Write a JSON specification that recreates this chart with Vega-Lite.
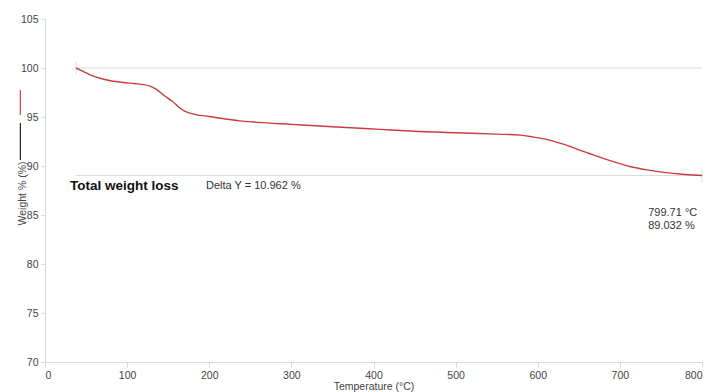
{
  "$schema": "https://vega.github.io/schema/vega-lite/v6.json",
  "width": 657,
  "height": 343,
  "autosize": {"type": "none"},
  "padding": {"left": 45, "top": 19, "right": 5, "bottom": 30},
  "background": "white",
  "config": {
    "font": "Liberation Sans",
    "view": {"stroke": null},
    "axis": {
      "grid": false,
      "domainColor": "#d9d9d9",
      "tickColor": "#d9d9d9",
      "tickSize": 4,
      "labelColor": "#444444",
      "labelFont": "Liberation Sans",
      "labelFontSize": 10.5,
      "titleFont": "Liberation Sans",
      "titleFontWeight": "normal",
      "titleFontSize": 10.5,
      "titleColor": "#444444"
    }
  },
  "datasets": {
    "curve": [
      {"temp": 37.8, "weight": 100.0},
      {"temp": 45, "weight": 99.7},
      {"temp": 55, "weight": 99.3},
      {"temp": 67, "weight": 98.95},
      {"temp": 80, "weight": 98.7},
      {"temp": 95, "weight": 98.52},
      {"temp": 110, "weight": 98.4},
      {"temp": 120, "weight": 98.3},
      {"temp": 128, "weight": 98.15},
      {"temp": 136, "weight": 97.8},
      {"temp": 145, "weight": 97.2},
      {"temp": 155, "weight": 96.6},
      {"temp": 163, "weight": 96.0},
      {"temp": 170, "weight": 95.6},
      {"temp": 181, "weight": 95.3},
      {"temp": 200, "weight": 95.05},
      {"temp": 220, "weight": 94.8},
      {"temp": 237, "weight": 94.6},
      {"temp": 260, "weight": 94.45},
      {"temp": 300, "weight": 94.25},
      {"temp": 350, "weight": 94.0},
      {"temp": 408, "weight": 93.74},
      {"temp": 450, "weight": 93.55},
      {"temp": 500, "weight": 93.4},
      {"temp": 550, "weight": 93.25},
      {"temp": 579, "weight": 93.15},
      {"temp": 595, "weight": 92.95},
      {"temp": 611, "weight": 92.72},
      {"temp": 630, "weight": 92.25},
      {"temp": 652, "weight": 91.6},
      {"temp": 672, "weight": 91.0},
      {"temp": 692, "weight": 90.44},
      {"temp": 712, "weight": 89.95},
      {"temp": 733, "weight": 89.6},
      {"temp": 753, "weight": 89.35},
      {"temp": 773, "weight": 89.18},
      {"temp": 790, "weight": 89.08},
      {"temp": 800, "weight": 89.03}
    ],
    "refs": [
      {"t1": 37.8, "t2": 800, "w1": 100, "w2": 100},
      {"t1": 37.8, "t2": 800, "w1": 89.032, "w2": 89.032},
      {"t1": 37.8, "t2": 37.8, "w1": 100.65, "w2": 99.3},
      {"t1": 800, "t2": 800, "w1": 89.7, "w2": 88.3}
    ],
    "legendRed": [
      {"t1": -30, "t2": -30, "w1": 97.76, "w2": 95.2}
    ],
    "legendBlack": [
      {"t1": -30, "t2": -30, "w1": 94.39, "w2": 90.61}
    ],
    "bold": [
      {"temp": 30.4, "weight": 87.96, "label": "Total weight loss"}
    ],
    "notes": [
      {"temp": 196, "weight": 87.96, "label": "Delta Y = 10.962 %"}
    ],
    "endpoint": [
      {"temp": 734.5, "weight": 85.2, "label": ["799.71 °C", "89.032 %"]}
    ]
  },
  "layer": [
    {
      "data": {"name": "refs"},
      "mark": {"type": "rule", "color": "#dcdcdc", "strokeWidth": 1},
      "encoding": {
        "x": {"field": "t1", "type": "quantitative", "scale": {"domain": [0, 800]},
          "axis": {"values": [0, 100, 200, 300, 400, 500, 600, 700, 800], "title": "Temperature (°C)", "titlePadding": 1, "labelPadding": 3, "tickSize": 5}},
        "x2": {"field": "t2"},
        "y": {"field": "w1", "type": "quantitative", "scale": {"domain": [70, 105]},
          "axis": {"values": [70, 75, 80, 85, 90, 95, 100, 105], "title": "Weight % (%)", "titleFontSize": 10.5, "titleX": -23, "titleY": 174, "titleAngle": -90, "titleAlign": "center", "titleBaseline": "middle", "labelPadding": 3}},
        "y2": {"field": "w2"}
      }
    },
    {
      "data": {"name": "legendRed"},
      "mark": {"type": "rule", "color": "#c8454a", "strokeWidth": 1.2},
      "encoding": {
        "x": {"field": "t1", "type": "quantitative"},
        "x2": {"field": "t2"},
        "y": {"field": "w1", "type": "quantitative"},
        "y2": {"field": "w2"}
      }
    },
    {
      "data": {"name": "legendBlack"},
      "mark": {"type": "rule", "color": "#222222", "strokeWidth": 1.2},
      "encoding": {
        "x": {"field": "t1", "type": "quantitative"},
        "x2": {"field": "t2"},
        "y": {"field": "w1", "type": "quantitative"},
        "y2": {"field": "w2"}
      }
    },
    {
      "data": {"name": "curve"},
      "mark": {"type": "line", "color": "#cc3b3f", "strokeWidth": 1.4, "interpolate": "monotone"},
      "encoding": {
        "x": {"field": "temp", "type": "quantitative"},
        "y": {"field": "weight", "type": "quantitative"}
      }
    },
    {
      "data": {"name": "bold"},
      "mark": {"type": "text", "align": "left", "baseline": "middle", "font": "Liberation Sans", "fontWeight": "bold", "fontSize": 13.5, "color": "#111111"},
      "encoding": {
        "x": {"field": "temp", "type": "quantitative"},
        "y": {"field": "weight", "type": "quantitative"},
        "text": {"field": "label"}
      }
    },
    {
      "data": {"name": "notes"},
      "mark": {"type": "text", "align": "left", "baseline": "middle", "font": "Liberation Sans", "fontSize": 11, "color": "#333333"},
      "encoding": {
        "x": {"field": "temp", "type": "quantitative"},
        "y": {"field": "weight", "type": "quantitative"},
        "text": {"field": "label"}
      }
    },
    {
      "data": {"name": "endpoint"},
      "mark": {"type": "text", "align": "left", "baseline": "top", "font": "Liberation Sans", "fontSize": 11, "lineHeight": 13, "color": "#333333", "dy": -6},
      "encoding": {
        "x": {"field": "temp", "type": "quantitative"},
        "y": {"field": "weight", "type": "quantitative"},
        "text": {"field": "label"}
      }
    }
  ]
}
